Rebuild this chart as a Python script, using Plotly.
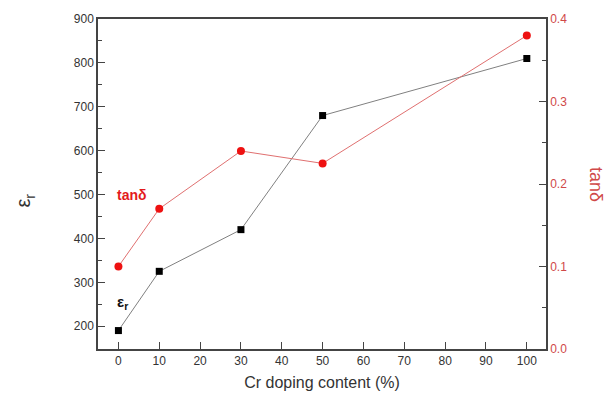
import plotly.graph_objects as go

# Cr doping content (%)
cr_content = [0, 10, 30, 50, 100]
# Dielectric constant
eps_r = [190, 325, 420, 680, 810]
# Dielectric loss
tan_delta = [0.100, 0.170, 0.240, 0.225, 0.380]

x_ticks = list(range(0, 101, 10))
left_ticks = list(range(200, 901, 100))
right_ticks = [0.0, 0.1, 0.2, 0.3, 0.4]

FONT = "Liberation Sans, Arial, sans-serif"
RED = "#e31a1c"
AXIS = "#444444"

# plot-area margins in pixels
ML, MR, MT, MB = 98, 59, 14, 49
W, H = 605, 401
plot_w = W - ML - MR
plot_h = H - MT - MB

fig = go.Figure()

fig.add_trace(go.Scatter(
    x=cr_content, y=eps_r, mode="lines+markers",
    line=dict(color="#808080", width=1),
    marker=dict(symbol="square", size=7, color="black"),
    showlegend=False,
))

fig.add_trace(go.Scatter(
    x=cr_content, y=tan_delta, mode="lines+markers", yaxis="y2",
    line=dict(color="#e07070", width=1),
    marker=dict(symbol="circle", size=8, color="#ee1111"),
    showlegend=False,
))

tick_common = dict(
    ticks="inside", ticklen=7, tickwidth=1.2, tickcolor=AXIS,
    showline=True, linecolor=AXIS, linewidth=1.5,
    showgrid=False, zeroline=False,
)

fig.update_layout(
    width=W, height=H,
    margin=dict(l=ML, r=MR, t=MT, b=MB),
    paper_bgcolor="white", plot_bgcolor="white",
    font=dict(family=FONT, size=12, color="#333333"),
    xaxis=dict(
        range=[-5, 104.7], tickvals=x_ticks, mirror=True,
        title=dict(text="Cr doping content (%)", font=dict(size=16, color="#333333"), standoff=10),
        **tick_common,
    ),
    yaxis=dict(
        range=[148, 900], tickvals=left_ticks,
        minor=dict(ticks="inside", ticklen=4, tickcolor=AXIS, dtick=50, tick0=0),
        **tick_common,
    ),
    yaxis2=dict(
        range=[0, 0.4], tickvals=right_ticks, tickformat=".1f",
        overlaying="y", side="right",
        tickfont=dict(color="#d04848"),
        minor=dict(ticks="inside", ticklen=4, tickcolor=AXIS, dtick=0.05, tick0=0),
        **tick_common,
    ),
    annotations=[
        # in-plot series labels
        dict(text="<b>tanδ</b>", x=-0.9, y=500, xref="x", yref="y",
             xanchor="left", yanchor="middle", showarrow=False,
             font=dict(size=14, color=RED, family=FONT)),
        dict(text="<b>ε<sub>r</sub></b>", x=-0.9, y=255, xref="x", yref="y",
             xanchor="left", yanchor="middle", showarrow=False,
             font=dict(size=15, color="#111111", family=FONT)),
        # left axis title
        dict(text="ε<sub>r</sub>", x=(25 - ML) / plot_w, y=(H - MB - 200) / plot_h,
             xref="paper", yref="paper", xanchor="center", yanchor="middle",
             showarrow=False, textangle=-90,
             font=dict(size=20, color="#333333", family=FONT)),
        # right axis title
        dict(text="tanδ", x=(596 - ML) / plot_w, y=(H - MB - 183) / plot_h,
             xref="paper", yref="paper", xanchor="center", yanchor="middle",
             showarrow=False, textangle=90,
             font=dict(size=18, color="#d04848", family=FONT)),
    ],
)

fig.write_html("out.html")
